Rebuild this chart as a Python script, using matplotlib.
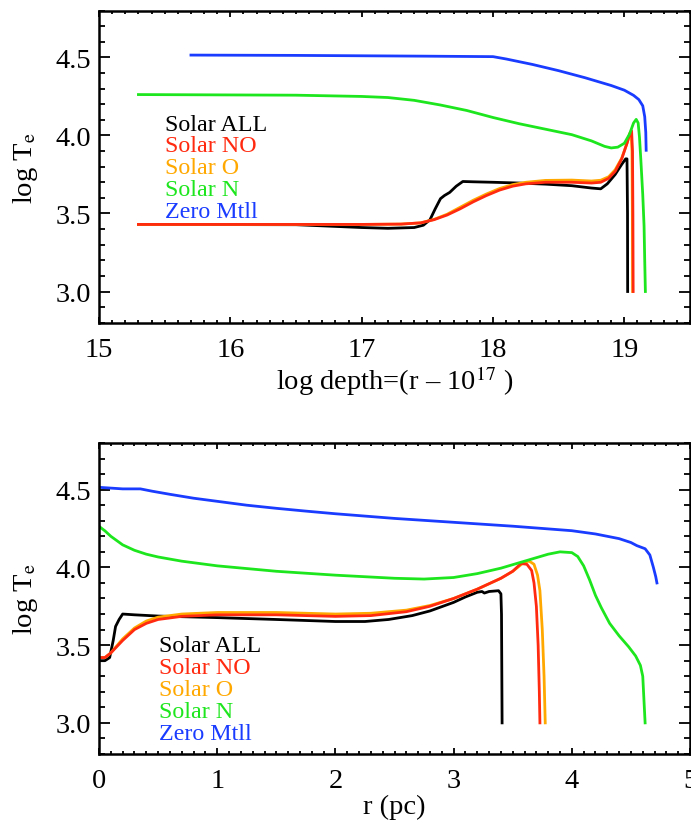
import matplotlib
matplotlib.use("Agg")
import matplotlib.pyplot as plt
from matplotlib.ticker import MultipleLocator, FormatStrFormatter

plt.rcParams['font.family'] = ['Liberation Serif', 'DejaVu Serif']
plt.rcParams['mathtext.fontset'] = 'stix'

labels = ["Solar ALL", "Solar NO", "Solar O", "Solar N", "Zero Mtll"]
colors = ["#000000", "#ff2a10", "#ffa800", "#1ee61e", "#1a3cff"]

# ---- Top panel: log depth vs log Te ----
top_all_x = [15.3, 16.5, 17.0, 17.2, 17.4, 17.47, 17.52, 17.56, 17.6, 17.63, 17.67, 17.72, 17.77, 17.85, 18.0, 18.2, 18.4, 18.6, 18.75, 18.82, 18.87, 18.93, 18.98, 19.01, 19.02, 19.024, 19.025]
top_all_y = [3.43, 3.428, 3.41, 3.405, 3.41, 3.425, 3.46, 3.53, 3.595, 3.615, 3.635, 3.675, 3.705, 3.703, 3.70, 3.695, 3.688, 3.678, 3.663, 3.658, 3.69, 3.75, 3.815, 3.85, 3.85, 3.5, 3.0]

top_no_x = [15.3, 17.0, 17.3, 17.45, 17.55, 17.65, 17.75, 17.85, 17.95, 18.05, 18.15, 18.25, 18.4, 18.6, 18.75, 18.82, 18.88, 18.93, 18.98, 19.02, 19.045, 19.055, 19.062, 19.065, 19.067]
top_no_y = [3.43, 3.43, 3.432, 3.44, 3.46, 3.49, 3.53, 3.575, 3.615, 3.65, 3.675, 3.69, 3.70, 3.70, 3.695, 3.70, 3.725, 3.77, 3.85, 3.95, 4.02, 4.03, 3.9, 3.5, 3.0]

top_o_x = [15.3, 17.0, 17.3, 17.45, 17.55, 17.65, 17.75, 17.85, 17.95, 18.05, 18.15, 18.25, 18.4, 18.6, 18.75, 18.82, 18.88, 18.93, 18.98, 19.02, 19.04, 19.052, 19.058, 19.061, 19.063]
top_o_y = [3.43, 3.43, 3.432, 3.44, 3.462, 3.495, 3.54, 3.585, 3.625, 3.66, 3.685, 3.70, 3.712, 3.714, 3.708, 3.713, 3.735, 3.78, 3.855, 3.95, 4.01, 4.02, 3.9, 3.5, 3.0]

top_n_x = [15.3, 16.5, 17.0, 17.2, 17.4, 17.6, 17.8, 18.0, 18.2, 18.4, 18.6, 18.75, 18.85, 18.9, 18.95, 19.0, 19.04, 19.07, 19.09, 19.105, 19.115, 19.125, 19.14, 19.15, 19.155, 19.16]
top_n_y = [4.262, 4.258, 4.25, 4.243, 4.225, 4.195, 4.16, 4.115, 4.075, 4.04, 4.005, 3.965, 3.93, 3.92, 3.925, 3.95, 4.01, 4.08, 4.103, 4.08, 3.99, 3.85, 3.62, 3.42, 3.2, 3.0]

top_z_x = [15.7, 16.5, 17.5, 18.0, 18.1, 18.3, 18.5, 18.7, 18.9, 19.0, 19.07, 19.11, 19.14, 19.155, 19.163, 19.166]
top_z_y = [4.515, 4.513, 4.508, 4.505, 4.49, 4.455, 4.415, 4.37, 4.32, 4.29, 4.257, 4.23, 4.19, 4.12, 4.02, 3.905]

# ---- Bottom panel: r (pc) vs log Te ----
bot_all_x = [0.0, 0.05, 0.09, 0.12, 0.14, 0.17, 0.2, 0.3, 0.5, 1.0, 1.5, 2.0, 2.25, 2.45, 2.65, 2.8, 3.0, 3.1, 3.2, 3.24, 3.26, 3.3, 3.38, 3.40, 3.405, 3.41]
bot_all_y = [3.40, 3.40, 3.42, 3.53, 3.62, 3.665, 3.70, 3.695, 3.687, 3.677, 3.665, 3.652, 3.652, 3.665, 3.69, 3.72, 3.775, 3.81, 3.84, 3.845, 3.835, 3.845, 3.85, 3.83, 3.7, 3.0]

bot_no_x = [0.0, 0.05, 0.1, 0.15, 0.2, 0.3, 0.4, 0.5, 0.7, 1.0, 1.5, 2.0, 2.3, 2.6, 2.8, 3.0, 3.2, 3.4, 3.5, 3.57, 3.62, 3.66, 3.68, 3.70, 3.715, 3.725, 3.73]
bot_no_y = [3.42, 3.42, 3.45, 3.49, 3.53, 3.60, 3.64, 3.665, 3.685, 3.695, 3.695, 3.685, 3.69, 3.715, 3.75, 3.80, 3.86, 3.93, 3.975, 4.025, 4.02, 3.98, 3.90, 3.75, 3.50, 3.2, 3.0]

bot_o_x = [0.0, 0.05, 0.1, 0.15, 0.2, 0.3, 0.4, 0.5, 0.7, 1.0, 1.5, 2.0, 2.3, 2.6, 2.8, 3.0, 3.2, 3.4, 3.5, 3.6, 3.64, 3.68, 3.71, 3.73, 3.75, 3.765, 3.775]
bot_o_y = [3.42, 3.42, 3.45, 3.495, 3.54, 3.61, 3.655, 3.68, 3.70, 3.71, 3.71, 3.70, 3.705, 3.725, 3.755, 3.80, 3.86, 3.93, 3.975, 4.035, 4.04, 4.02, 3.95, 3.85, 3.6, 3.3, 3.0]

bot_n_x = [0.0, 0.05, 0.1, 0.2, 0.3, 0.4, 0.5, 0.7, 1.0, 1.5, 2.0, 2.5, 2.75, 3.0, 3.2, 3.4, 3.6, 3.8, 3.9, 4.0, 4.05, 4.1, 4.15, 4.2, 4.25, 4.32, 4.4, 4.48, 4.54, 4.58, 4.6, 4.61, 4.62]
bot_n_y = [4.264, 4.235, 4.2, 4.145, 4.11, 4.085, 4.067, 4.04, 4.01, 3.975, 3.95, 3.93, 3.925, 3.935, 3.96, 3.995, 4.04, 4.085, 4.10, 4.095, 4.07, 4.01, 3.92, 3.82, 3.74, 3.64, 3.56, 3.49, 3.43, 3.37, 3.3, 3.15, 3.0]

bot_z_x = [0.0, 0.1, 0.2, 0.35, 0.45, 0.6, 0.8, 1.0, 1.25, 1.5, 1.75, 2.0, 2.5, 3.0, 3.5, 4.0, 4.2, 4.4, 4.5, 4.55, 4.62, 4.66, 4.69, 4.71, 4.72]
bot_z_y = [4.515, 4.51, 4.505, 4.505, 4.49, 4.47, 4.445, 4.425, 4.40, 4.38, 4.362, 4.345, 4.315, 4.29, 4.265, 4.236, 4.215, 4.185, 4.16, 4.14, 4.12, 4.08, 4.0, 3.94, 3.90]

top_draw = [(top_all_x, top_all_y, colors[0]), (top_o_x, top_o_y, colors[2]), (top_no_x, top_no_y, colors[1]),
            (top_n_x, top_n_y, colors[3]), (top_z_x, top_z_y, colors[4])]
bot_draw = [(bot_all_x, bot_all_y, colors[0]), (bot_o_x, bot_o_y, colors[2]), (bot_no_x, bot_no_y, colors[1]),
            (bot_n_x, bot_n_y, colors[3]), (bot_z_x, bot_z_y, colors[4])]

FS = 20.5

fig = plt.figure(figsize=(6.91, 8.29), dpi=100)
ax1 = fig.add_axes([0.1433, 0.6095, 0.8553, 0.3765])
ax2 = fig.add_axes([0.1433, 0.0893, 0.8553, 0.3751])

def style(ax, xlim):
    ax.set_xlim(*xlim)
    ax.set_ylim(2.8, 4.8)
    ax.xaxis.set_major_locator(MultipleLocator(1))
    ax.xaxis.set_minor_locator(MultipleLocator(0.1))
    ax.yaxis.set_major_locator(MultipleLocator(0.5))
    ax.yaxis.set_minor_locator(MultipleLocator(0.1))
    ax.yaxis.set_major_formatter(FormatStrFormatter('%.1f'))
    ax.tick_params(axis='both', which='both', direction='in', top=True, right=True, width=1.3)
    ax.tick_params(axis='x', which='major', length=4.5, pad=10, labelsize=FS)
    ax.tick_params(axis='x', which='minor', length=2.2)
    ax.tick_params(axis='y', which='major', length=8, pad=6, labelsize=FS)
    ax.tick_params(axis='y', which='minor', length=4.3)
    for s in ax.spines.values():
        s.set_linewidth(1.8)
    ax.set_ylabel(r"log T$_{\rm e}$", fontsize=FS, labelpad=11)

style(ax1, (15, 19.5))
style(ax2, (0, 5))

for x, y, c in top_draw:
    ax1.plot(x, y, color=c, lw=2.0, solid_joinstyle='round')
for x, y, c in bot_draw:
    ax2.plot(x, y, color=c, lw=2.0, solid_joinstyle='round')

ax1.set_xlabel(r"log depth=(r – 10$^{17}$ )", fontsize=FS, labelpad=1)
ax2.set_xlabel("r (pc)", fontsize=FS, labelpad=1)

for i, (lab, c) in enumerate(zip(labels, colors)):
    ax1.text(0.112, 0.6185 - i * 0.0696, lab, color=c, fontsize=17.3, transform=ax1.transAxes, va='baseline')
    ax2.text(0.101, 0.331 - i * 0.0707, lab, color=c, fontsize=17.3, transform=ax2.transAxes, va='baseline')

fig.savefig("out.png", dpi=100)
